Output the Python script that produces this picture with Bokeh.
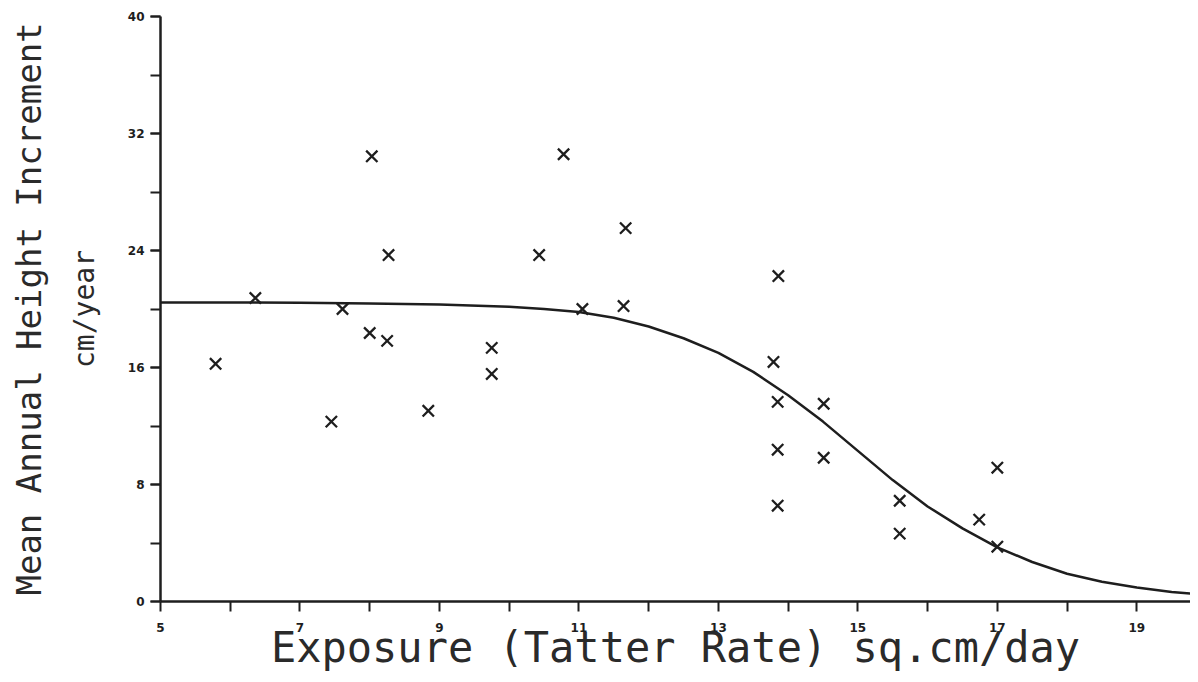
from bokeh.plotting import figure
from bokeh.models import Range1d, FixedTicker, LinearAxis, SingleIntervalTicker
from bokeh.embed import file_html
from bokeh.resources import INLINE

# Observations (crosses)
exposure = [5.79, 6.36, 7.45, 7.61, 8.00, 8.03, 8.27, 8.25, 8.84, 9.75, 9.75,
            10.43, 10.78, 11.05, 11.67, 11.64, 13.86, 13.79, 13.85, 13.85, 13.85,
            14.51, 14.51, 15.60, 15.60, 16.74, 17.00, 17.00]
increment = [16.25, 20.75, 12.3, 20.0, 18.36, 30.44, 23.69, 17.82, 13.04, 17.34, 15.56,
             23.69, 30.58, 20.0, 25.53, 20.2, 22.25, 16.38, 13.65, 10.38, 6.55,
             13.52, 9.83, 6.89, 4.64, 5.6, 9.15, 3.75]

# Fitted curve
curve_x = [5, 6, 7, 8, 9, 10, 10.5, 11, 11.5, 12, 12.5, 13, 13.5, 14, 14.5,
           15, 15.5, 16, 16.5, 17, 17.5, 18, 18.5, 19, 19.5, 20]
curve_y = [20.45, 20.45, 20.42, 20.38, 20.3, 20.15, 20.0, 19.8, 19.4, 18.8, 18.0,
           17.0, 15.7, 14.1, 12.3, 10.3, 8.3, 6.5, 5.0, 3.7, 2.7, 1.9, 1.35, 0.95, 0.65, 0.45]

x_major = [5, 7, 9, 11, 13, 15, 17, 19]
x_minor = [6, 8, 10, 12, 14, 16, 18]

ink = "#1e1e1e"

p = figure(width=1190, height=674, output_backend="svg", toolbar_location=None,
           x_range=Range1d(5, 19.77), y_range=Range1d(0, 40),
           min_border_left=160, min_border_right=0, min_border_top=16, min_border_bottom=72)
p.outline_line_color = None
p.grid.visible = False
p.background_fill_color = "white"
p.border_fill_color = "white"

p.line(curve_x, curve_y, line_color=ink, line_width=2.5)
p.scatter(exposure, increment, marker="x", size=16, line_color=ink, line_width=2.3)

# x axis
xa = p.xaxis[0]
xa.ticker = FixedTicker(ticks=x_major, minor_ticks=x_minor)
xa.axis_line_width = 2.5
xa.axis_line_color = ink
xa.major_tick_in = 0
xa.major_tick_out = 10
xa.minor_tick_in = 0
xa.minor_tick_out = 10
xa.major_tick_line_width = 2
xa.minor_tick_line_width = 2
xa.major_tick_line_color = ink
xa.minor_tick_line_color = ink
xa.major_label_text_font = "DejaVu Sans"
xa.major_label_text_font_style = "bold"
xa.major_label_text_font_size = "12px"
xa.major_label_text_color = ink
xa.major_label_standoff = 11
xa.axis_label = "Exposure (Tatter Rate) sq.cm/day"
xa.axis_label_text_font = "DejaVu Sans Mono"
xa.axis_label_text_font_style = "normal"
xa.axis_label_text_font_size = "42px"
xa.axis_label_text_color = "#2a2a2a"
xa.axis_label_standoff = -12

# y axis (inner, with ticks and "cm/year")
ya = p.yaxis[0]
ya.ticker = SingleIntervalTicker(interval=8, num_minor_ticks=2)
ya.axis_line_width = 2.5
ya.axis_line_color = ink
ya.major_tick_in = 0
ya.major_tick_out = 10
ya.minor_tick_in = 0
ya.minor_tick_out = 10
ya.major_tick_line_width = 2
ya.minor_tick_line_width = 2
ya.major_tick_line_color = ink
ya.minor_tick_line_color = ink
ya.major_label_text_font = "DejaVu Sans"
ya.major_label_text_font_style = "bold"
ya.major_label_text_font_size = "12px"
ya.major_label_text_color = ink
ya.major_label_standoff = 6
ya.axis_label = "cm/year"
ya.axis_label_text_font = "DejaVu Sans Mono"
ya.axis_label_text_font_style = "normal"
ya.axis_label_text_font_size = "28px"
ya.axis_label_text_color = "#2a2a2a"
ya.axis_label_standoff = 24

# outer y axis carrying only the first label line
ya2 = LinearAxis(ticker=FixedTicker(ticks=[]))
ya2.axis_line_color = None
ya2.major_tick_line_color = None
ya2.minor_tick_line_color = None
ya2.major_label_text_font_size = "0px"
ya2.major_label_standoff = 0
ya2.axis_label = "Mean Annual Height Increment"
ya2.axis_label_text_font = "DejaVu Sans Mono"
ya2.axis_label_text_font_style = "normal"
ya2.axis_label_text_font_size = "34px"
ya2.axis_label_text_color = "#2a2a2a"
ya2.axis_label_standoff = 16
p.add_layout(ya2, "left")

open("out.html", "w").write(file_html(p, INLINE))
